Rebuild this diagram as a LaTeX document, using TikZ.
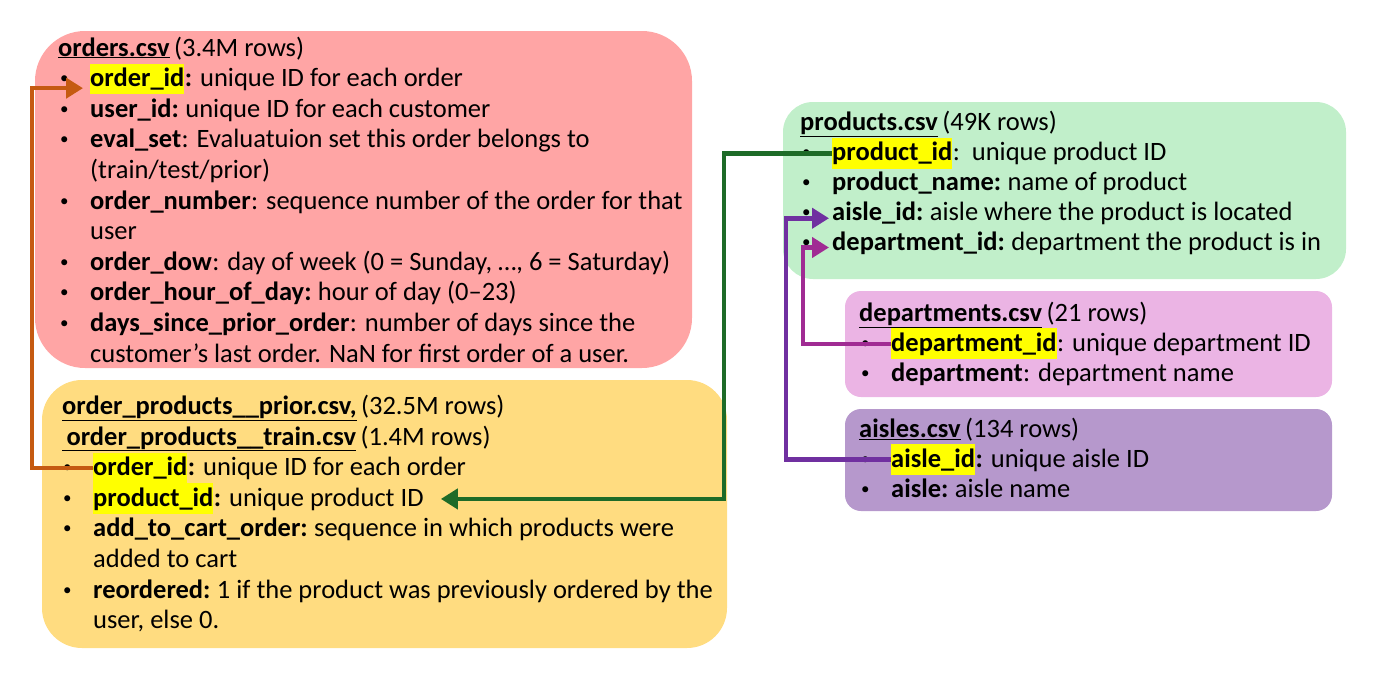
\documentclass[tikz,border=0pt]{standalone}
\usepackage{fontspec}
\setmainfont{Carlito}
\usetikzlibrary{arrows.meta, positioning, calc}
\definecolor{ordersfill}{HTML}{FFA5A5}
\definecolor{opfill}{HTML}{FFDC80}
\definecolor{prodfill}{HTML}{C1EFCA}
\definecolor{deptfill}{HTML}{EBB4E4}
\definecolor{aislefill}{HTML}{B698CC}
\definecolor{keyyellow}{HTML}{FFFF00}
\definecolor{inkorange}{HTML}{C55A11}
\definecolor{inkgreen}{HTML}{1E6B28}
\definecolor{inkpurple}{HTML}{7030A0}
\definecolor{inkmagenta}{HTML}{A02B93}
\tikzset{
  csvbox/.style={draw=none, inner sep=0pt},
  rowtext/.style={anchor=base west, inner sep=0pt},
  keymark/.style={rowtext, fill=keyyellow, inner ysep=4pt},
  bulletmark/.style={rowtext, font=\fontsize{17}{20}\selectfont},
  link/.style={line width=4.5pt, -{Triangle[length=17pt, width=20pt]}},
}
\newcommand{\csvtitle}[5]{%
  \node[rowtext] (#1) at (#2,#3) {\underline{\textbf{#4}}\,#5};}
\newcommand{\csvrow}[6]{%
  \node[bulletmark] (#1-b) at (#2-30,#3-3) {\textbullet};
  \node[#4] (#1) at (#2,#3) {\textbf{#5}};
  \node[rowtext] (#1-d) at (#1.base east) {#6};}
\newcommand{\csvwrap}[4]{%
  \node[rowtext] (#1) at (#2,#3) {#4};}

\begin{document}
\begin{tikzpicture}[x=1pt, y=-1pt, font=\fontsize{26.5}{30}\selectfont]
  \useasboundingbox (0,0) rectangle (1374,681);
  % tables
  \node[csvbox, fill=ordersfill, rounded corners=50pt, minimum width=657pt,
        minimum height=337pt] (orders) at (363.5,199.5) {};
  \node[csvbox, fill=opfill, rounded corners=40pt, minimum width=685pt,
        minimum height=268pt] (orderprods) at (384.5,514) {};
  \node[csvbox, fill=prodfill, rounded corners=30pt, minimum width=563pt,
        minimum height=177pt] (products) at (1064.5,190.5) {};
  \node[csvbox, fill=deptfill, rounded corners=16pt, minimum width=487pt,
        minimum height=106pt] (departments) at (1088.5,344) {};
  \node[csvbox, fill=aislefill, rounded corners=16pt, minimum width=487pt,
        minimum height=102pt] (aisles) at (1088.5,460) {};

  % orders.csv
  \csvtitle{o-title}{58}{56}{orders.csv}{(3.4M rows)}
  \csvrow{ooid}{90}{86.6}{keymark}{order\_id}{\textbf{:} unique ID for each order}
  \csvrow{ouid}{90}{117.2}{rowtext}{user\_id:}{\ unique ID for each customer}
  \csvrow{oeval}{90}{147.8}{rowtext}{eval\_set}{: Evaluatuion set this order belongs to}
  \csvwrap{oeval-w}{90}{178.4}{(train/test/prior)}
  \csvrow{onum}{90}{209}{rowtext}{order\_number}{: sequence number of the order for that}
  \csvwrap{onum-w}{90}{239.6}{user}
  \csvrow{odow}{90}{270.2}{rowtext}{order\_dow}{: day of week (0 = Sunday, …, 6 = Saturday)}
  \csvrow{ohour}{90}{300.8}{rowtext}{order\_hour\_of\_day:}{\ hour of day (0--23)}
  \csvrow{odays}{90}{331.4}{rowtext}{days\_since\_prior\_order}{: number of days since the}
  \csvwrap{odays-w}{90}{362}{customer’s last order. NaN for first order of a user.}

  % order_products__*.csv
  \csvtitle{op-title}{62}{414.3}{order\_products\_\_prior.csv,}{(32.5M rows)}
  \csvtitle{op-title2}{62}{445}{\,order\_products\_\_train.csv}{(1.4M rows)}
  \csvrow{opoid}{93}{475.5}{keymark}{order\_id}{\textbf{:} unique ID for each order}
  \csvrow{oppid}{93}{506}{keymark}{product\_id}{\textbf{:} unique product ID}
  \csvrow{opcart}{93}{536.7}{rowtext}{add\_to\_cart\_order:}{\ sequence in which products were}
  \csvwrap{opcart-w}{93}{567.3}{added to cart}
  \csvrow{opre}{93}{598}{rowtext}{reordered:}{\ 1 if the product was previously ordered by the}
  \csvwrap{opre-w}{93}{628.5}{user, else 0.}

  % products.csv
  \csvtitle{p-title}{800}{130.7}{products.csv}{(49K rows)}
  \csvrow{ppid}{832}{160.5}{keymark}{product\_id}{:\ \ unique product ID}
  \csvrow{ppname}{832}{190.7}{rowtext}{product\_name:}{\ name of product}
  \csvrow{ppaisle}{832}{220.7}{rowtext}{aisle\_id:}{\ aisle where the product is located}
  \csvrow{ppdept}{832}{250.7}{rowtext}{department\_id:}{\ department the product is in}

  % departments.csv
  \csvtitle{d-title}{859}{321.7}{departments.csv}{(21 rows)}
  \csvrow{ddid}{891}{351}{keymark}{department\_id}{: unique department ID}
  \csvrow{ddname}{891}{381.7}{rowtext}{department}{: department name}

  % aisles.csv
  \csvtitle{a-title}{859}{437.3}{aisles.csv}{(134 rows)}
  \csvrow{aaid}{891}{467}{keymark}{aisle\_id}{\textbf{:} unique aisle ID}
  \csvrow{aaname}{891}{497}{rowtext}{aisle:}{\ aisle name}

  % keys
  \draw[link, inkorange, shorten >=7pt] (opoid.west) -- ++(-61,0) |- ([yshift=-9pt]ooid.west);
  \draw[link, inkgreen] (ppid.west) -- ++(-108,0) |- ([xshift=17pt]oppid-d.east);
  \draw[link, inkpurple, shorten >=3pt] (aaid.west) -- ++(-105,0) |- ([yshift=-5pt]ppaisle.west);
  \draw[link, inkmagenta, shorten >=3pt] (ddid.west) -- ++(-88,0) |- ([yshift=-4pt]ppdept.west);
\end{tikzpicture}
\end{document}
